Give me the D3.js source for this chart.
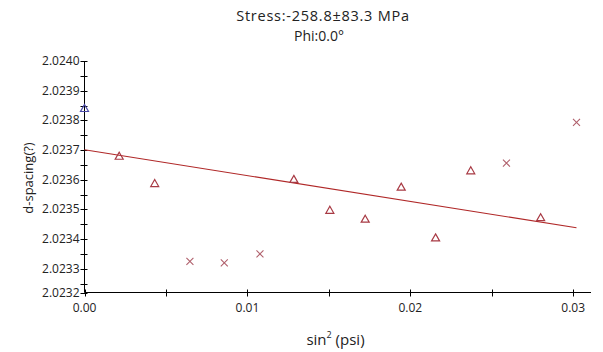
<!DOCTYPE html>
<html><head><meta charset="utf-8">
<script src="https://cdn.jsdelivr.net/npm/d3@7"></script>
<style>body{margin:0;background:#fff;} svg{display:block;}</style>
</head><body>
<svg id="c" width="603" height="352"></svg>
<script>
const titleLines = ["Stress:-258.8\u00B183.3 MPa", "Phi:0.0\u00B0"];
const xLabelMain = "sin", xLabelSup = "2", xLabelRest = " (psi)";
const yLabel = "d-spacing(?)";
// points: [sin2psi, d-spacing, marker]
const pointX = [0.0000, 0.00213, 0.00431, 0.00647, 0.00858, 0.01077, 0.01285, 0.01506, 0.01723, 0.01944, 0.02155, 0.02371, 0.0259, 0.0280, 0.0302];
const pointY = [2.02384, 2.023679, 2.023587, 2.023325, 2.02332, 2.02335, 2.023601, 2.023497, 2.023467, 2.023575, 2.023404, 2.02363, 2.023656, 2.023472, 2.023793];
const pointMark = ["tri-blue","tri","tri","x","x","x","tri","tri","tri","tri","tri","tri","x","tri","x"];
const fitX = [0, 0.0302];
const fitY = [2.023701, 2.023438];
const xTickVals = [0, 0.01, 0.02, 0.03];
const xMinorVals = [0.005, 0.015, 0.025];
const yTickVals = [2.02322, 2.0233, 2.0234, 2.0235, 2.0236, 2.0237, 2.0238, 2.0239, 2.0240];
const yMinorVals = [2.02325, 2.02335, 2.02345, 2.02355, 2.02365, 2.02375, 2.02385, 2.02395];

const svg = d3.select("#c");
const font = "'Open Sans', sans-serif";
const x = d3.scaleLinear().domain([0, 0.03109]).range([84.5, 591]);
const y = d3.scaleLinear().domain([2.02322, 2.0240]).range([292.5, 61]);

// axes
const xAxis = svg.append("g").attr("transform", `translate(0,${y.range()[0]})`);
xAxis.append("line").attr("x1", x.range()[0]).attr("x2", x.range()[1]).attr("stroke","#000");
xAxis.selectAll("line.t").data(xTickVals.concat(xMinorVals)).join("line").attr("class","t")
  .attr("x1", d=>Math.round(x(d))+0.5).attr("x2", d=>Math.round(x(d))+0.5).attr("y1",-3).attr("y2",4).attr("stroke","#000");
xAxis.selectAll("text").data(xTickVals).join("text")
  .attr("x", d=>x(d)).attr("y", 19).attr("text-anchor","middle")
  .attr("font-family", font).attr("font-size", 12).attr("fill","#222")
  .text(d=>d3.format(".2f")(d));

const yAxis = svg.append("g").attr("transform", `translate(${x.range()[0]},0)`);
yAxis.append("line").attr("y1", y.range()[0]).attr("y2", y.range()[1]).attr("stroke","#000");
yAxis.selectAll("line.t").data(yTickVals.concat(yMinorVals)).join("line").attr("class","t")
  .attr("y1", d=>Math.round(y(d))+0.5).attr("y2", d=>Math.round(y(d))+0.5).attr("x1",-4).attr("x2",3).attr("stroke","#000");
yAxis.selectAll("text").data(yTickVals).join("text")
  .attr("x", -5).attr("y", d=>y(d)+4).attr("text-anchor","end")
  .attr("font-family", font).attr("font-size", 12).attr("fill","#222")
  .text(d=>d3.format(".4f")(d));

// titles
svg.append("text").attr("x", 323).attr("y", 21).attr("text-anchor","middle")
  .attr("font-family", font).attr("font-size", 14.5).attr("letter-spacing", 0.75).attr("fill","#222").text(titleLines[0]);
svg.append("text").attr("x", 319).attr("y", 40.5).attr("text-anchor","middle")
  .attr("font-family", font).attr("font-size", 14).attr("fill","#222").text(titleLines[1]);

const xl = svg.append("text").attr("x", 335.5).attr("y", 345).attr("text-anchor","middle")
  .attr("font-family", font).attr("font-size", 15).attr("fill","#222");
xl.append("tspan").text(xLabelMain);
xl.append("tspan").attr("font-size", 9).attr("dy", -7).text(xLabelSup);
xl.append("tspan").attr("dy", 7).text(xLabelRest);

svg.append("text").attr("transform","translate(33,178) rotate(-90)").attr("text-anchor","middle")
  .attr("font-family", font).attr("font-size", 13).attr("fill","#222").text(yLabel);

// fit line
svg.append("line").attr("x1", x(fitX[0])).attr("y1", y(fitY[0])).attr("x2", x(fitX[1])).attr("y2", y(fitY[1]))
  .attr("stroke","#b02828").attr("stroke-width",1.1);

// points
const pts = pointX.map((v,i)=>({x:v, y:pointY[i], m:pointMark[i]}));
const g = svg.append("g");
pts.forEach(p=>{
  const cx = x(p.x), cy = y(p.y);
  if (p.m.startsWith("tri")) {
    g.append("path").attr("d", `M${cx},${cy-4}L${cx+4},${cy+3}L${cx-4},${cy+3}Z`)
      .attr("fill","none").attr("stroke", p.m==="tri-blue" ? "#4a4aa8" : "#a83a44").attr("stroke-width",1.2);
  } else {
    g.append("path").attr("d", `M${cx-3.5},${cy-3.5}L${cx+3.5},${cy+3.5}M${cx+3.5},${cy-3.5}L${cx-3.5},${cy+3.5}`)
      .attr("fill","none").attr("stroke","#b0606c").attr("stroke-width",1.1);
  }
});
</script>
</body></html>
